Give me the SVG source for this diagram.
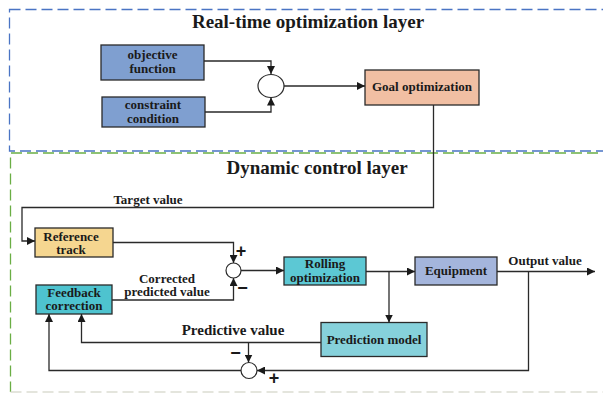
<svg xmlns="http://www.w3.org/2000/svg" width="603" height="394" viewBox="0 0 603 394">
<style>
text{font-family:"Liberation Serif","Times New Roman",serif;font-weight:bold;fill:#1a1a1a;text-anchor:middle}
.t13{font-size:13px}
.title{font-size:19px}
.box{stroke:#2a2a2a;stroke-width:1.3}
.ln{fill:none;stroke:#2a2a2a;stroke-width:1.3}
.sum{fill:#fff;stroke:#2a2a2a;stroke-width:1.2}
.sign{font-family:"Liberation Sans",Arial,sans-serif;font-size:18px}
</style>
<defs>
<marker id="ah" viewBox="0 0 10 10" refX="10" refY="5" markerWidth="8" markerHeight="8" markerUnits="userSpaceOnUse" orient="auto">
<path d="M0,0 L10,5 L0,10 Z" fill="#1a1a1a"/>
</marker>
</defs>
<rect width="603" height="394" fill="#fff"/>

<g id="layer-rto">
<rect x="9.5" y="9.5" width="620" height="141.5" fill="none" stroke="#4a74c4" stroke-width="1.3" stroke-dasharray="11 5"/>
<text class="title" x="308" y="27.5">Real-time optimization layer</text>
</g>
<g id="layer-dyn">
<path d="M630,153 H10.5 V392" fill="none" stroke="#6aae45" stroke-width="1.3" stroke-dasharray="11 5"/>
<line x1="10.5" y1="392" x2="603" y2="392" stroke="#dcddd2" stroke-width="1.3" stroke-dasharray="11 5"/>
<text class="title" x="317" y="173.5">Dynamic control layer</text>
</g>

<g id="objective">
<rect class="box" x="101" y="45" width="103" height="35" fill="#7f9fd0"/>
<text class="t13" x="152.5" y="59">objective</text>
<text class="t13" x="152.5" y="73">function</text>
</g>
<g id="constraint">
<rect class="box" x="102" y="97" width="103" height="30" fill="#7f9fd0"/>
<text class="t13" x="153" y="109">constraint</text>
<text class="t13" x="153" y="122.5">condition</text>
</g>
<g id="sum1"><ellipse class="sum" cx="271" cy="86" rx="13" ry="11.5"/></g>
<g id="goal">
<rect class="box" x="365" y="70" width="114" height="35" fill="#f1bfa3"/>
<text class="t13" x="422" y="91">Goal optimization</text>
</g>

<g id="reference">
<rect class="box" x="35" y="228" width="78" height="29" fill="#f5d690"/>
<text class="t13" x="71" y="240.5">Reference</text>
<text class="t13" x="71" y="254">track</text>
</g>
<g id="feedback">
<rect class="box" x="36" y="285" width="76" height="29" fill="#4ec3cf"/>
<text class="t13" x="74" y="296.5">Feedback</text>
<text class="t13" x="74" y="310">correction</text>
</g>
<g id="sum2"><circle class="sum" cx="233.5" cy="270.5" r="7.5"/></g>
<g id="rolling">
<rect class="box" x="284" y="257" width="82" height="28" fill="#5cc8d4"/>
<text class="t13" x="325" y="268">Rolling</text>
<text class="t13" x="325" y="281.5">optimization</text>
</g>
<g id="equipment">
<rect class="box" x="415" y="257" width="82" height="28" fill="#a4b5dc"/>
<text class="t13" x="456" y="275">Equipment</text>
</g>
<g id="prediction">
<rect class="box" x="321" y="322.5" width="106" height="34" fill="#86d1db"/>
<text class="t13" x="374" y="343.5">Prediction model</text>
</g>
<g id="sum3"><circle class="sum" cx="249" cy="370.5" r="8"/></g>

<g id="connectors">
<path class="ln" d="M204,61 H271 V74" marker-end="url(#ah)"/>
<path class="ln" d="M205,112 H271 V97.5" marker-end="url(#ah)"/>
<path class="ln" d="M284,86 H365" marker-end="url(#ah)"/>
<path class="ln" d="M433.5,105 V207.5 H22 V241 H35" marker-end="url(#ah)"/>
<path class="ln" d="M113,242.5 H233.5 V263" marker-end="url(#ah)"/>
<path class="ln" d="M112,300 H233.5 V278" marker-end="url(#ah)"/>
<path class="ln" d="M241,270.5 H284" marker-end="url(#ah)"/>
<path class="ln" d="M366,271.5 H415" marker-end="url(#ah)"/>
<path class="ln" d="M389,271.5 V322.5" marker-end="url(#ah)"/>
<path class="ln" d="M497,271.5 H595" marker-end="url(#ah)"/>
<path class="ln" d="M528.5,271.5 V370.5 H257" marker-end="url(#ah)"/>
<path class="ln" d="M321,342.5 H81.5 V314" marker-end="url(#ah)"/>
<path class="ln" d="M248.5,342.5 V362.5" marker-end="url(#ah)"/>
<path class="ln" d="M241,370.5 H49 V314" marker-end="url(#ah)"/>
<text class="t13" x="148" y="203.5">Target value</text>
<text class="t13" x="167" y="282.5">Corrected</text>
<text class="t13" x="167" y="296">predicted value</text>
<text x="233" y="335" style="font-size:15px">Predictive value</text>
<text class="t13" x="545" y="265">Output value</text>
<text class="sign" x="241" y="257">+</text>
<text class="sign" x="242.5" y="294">−</text>
<text class="sign" x="235.5" y="359">−</text>
<text class="sign" x="274" y="384">+</text>
</g>
</svg>
